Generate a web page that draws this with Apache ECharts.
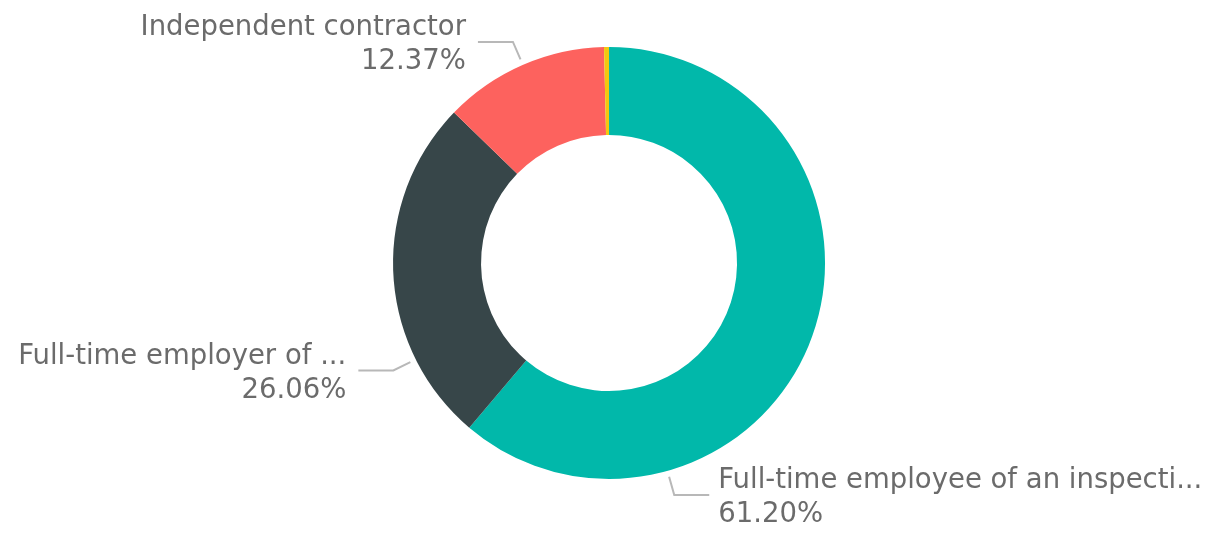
<!DOCTYPE html>
<html>
<head>
<meta charset="utf-8">
<script src="https://cdn.jsdelivr.net/npm/echarts@6/dist/echarts.min.js"></script>
<style>
html,body{margin:0;padding:0;background:#fff;}
#chart{width:1212px;height:533px;}
</style>
</head>
<body>
<div id="chart"></div>
<script>
// ---- data ----
const categories = [
  'Full-time employee of an inspecti...',
  'Full-time employer of ...',
  'Independent contractor',
  'Other'
];
const shares = [61.20, 26.06, 12.37, 0.37];
const showLabel = [true, true, true, false];

// ---- style ----
const colors = ['#01B8AA', '#374649', '#FD625E', '#F2C80F'];
const labelAngles = [164.3, 243.5, 336.5, 0]; // label anchor angle (deg, clockwise from top)
const CENTER = [0.5025, 0.4934];
const R_IN = 128, R_OUT = 216;

const chart = echarts.init(document.getElementById('chart'), null, {renderer: 'canvas'});

const data = categories.map((name, i) => ({
  name: name,
  value: shares[i],
  itemStyle: {color: colors[i]},
  label: {show: showLabel[i]},
  labelLine: {show: showLabel[i]}
}));

const option = {
  backgroundColor: '#ffffff',
  animation: false,
  series: [{
    type: 'pie',
    center: [(CENTER[0] * 100) + '%', (CENTER[1] * 100) + '%'],
    radius: [R_IN, R_OUT],
    startAngle: 90,
    clockwise: true,
    data: data,
    emphasis: {disabled: true},
    label: {
      show: true,
      formatter: p => p.name + '\n' + p.value.toFixed(2) + '%',
      color: '#6b6b6b',
      fontFamily: 'DejaVu Sans',
      fontSize: 27.5,
      lineHeight: 34,
      overflow: 'none',
      width: 600
    },
    labelLine: {
      show: true,
      lineStyle: {color: '#b8b8b8', width: 2}
    },
    labelLayout: function (params) {
      const i = params.dataIndex;
      const cx = chart.getWidth() * CENTER[0];
      const cy = chart.getHeight() * CENTER[1];
      const a = labelAngles[i] * Math.PI / 180;
      const s = Math.sin(a), c = Math.cos(a);
      const p0 = [cx + (R_OUT + 6) * s, cy - (R_OUT + 6) * c];
      const p1 = [cx + (R_OUT + 25) * s, cy - (R_OUT + 25) * c];
      const dir = s < 0 ? -1 : 1;
      const p2 = [p1[0] + dir * 35, p1[1]];
      return {
        x: p2[0] + dir * (dir < 0 ? 12 : 9),
        y: p2[1] + 3,
        align: dir < 0 ? 'right' : 'left',
        verticalAlign: 'middle',
        labelLinePoints: [p0, p1, p2]
      };
    }
  }]
};
chart.setOption(option);
</script>
</body>
</html>
